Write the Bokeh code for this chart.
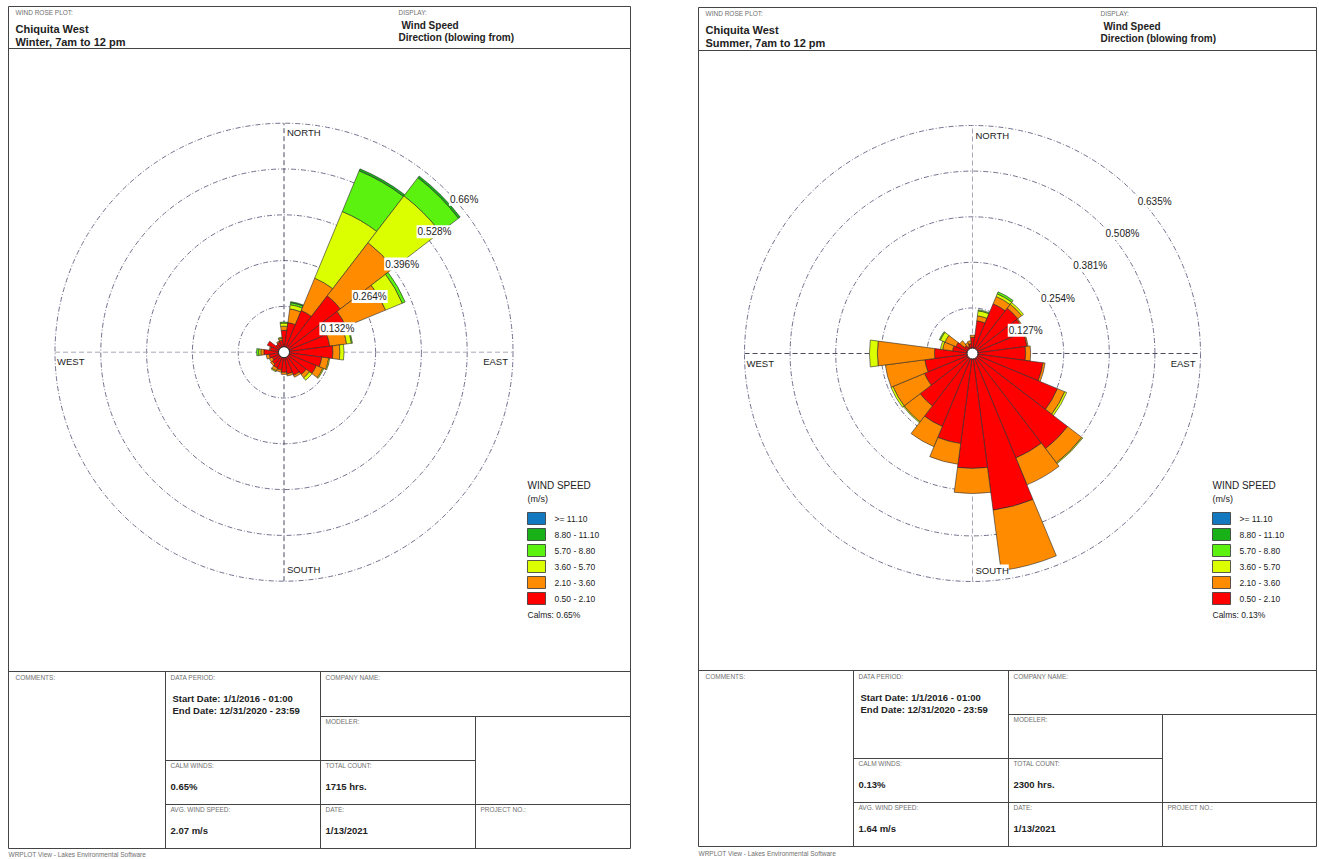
import numpy as np
from bokeh.plotting import figure
from bokeh.models import Range1d
from bokeh.core.properties import value
from bokeh.embed import file_html
from bokeh.resources import INLINE

W, H = 1319, 859
FONT = value("Liberation Sans")

# 24 direction sectors (degrees, blowing from), each 15 degrees wide
directions = list(range(0, 360, 15))
sector_width = 15

# speed classes (m/s), listed from the highest class down
speed_classes = [">= 11.10", "8.80 - 11.10", "5.70 - 8.80", "3.60 - 5.70", "2.10 - 3.60", "0.50 - 2.10"]
class_colors = ["#1279c0", "#18b218", "#5af20e", "#dcff00", "#ff8c00", "#ff0000"]

# Winter, 7am to 12 pm: frequency (%) per speed class and direction
winter_050_210 = [0.063, 0.086, 0.130, 0.205, 0.193, 0.133, 0.141, 0.110, 0.101, 0.081, 0.072, 0.063,
                  0.058, 0.052, 0.049, 0.043, 0.037, 0.043, 0.058, 0.040, 0.052, 0.029, 0.032, 0.035]
winter_210_360 = [0.012, 0.040, 0.101, 0.193, 0.124, 0.049, 0.020, 0.020, 0.020, 0.012, 0.006, 0.006,
                  0.006, 0.006, 0.009, 0.006, 0.009, 0.009, 0.009, 0.003, 0.000, 0.000, 0.003, 0.006]
winter_360_570 = [0.009, 0.012, 0.208, 0.170, 0.052, 0.014, 0.012, 0.003, 0.003, 0.009, 0.000, 0.000,
                  0.000, 0.000, 0.003, 0.000, 0.000, 0.000, 0.006, 0.000, 0.000, 0.000, 0.000, 0.003]
winter_570_880 = [0.003, 0.006, 0.127, 0.066, 0.009, 0.003, 0.000, 0.000, 0.000, 0.000, 0.000, 0.000,
                  0.000, 0.000, 0.000, 0.000, 0.000, 0.000, 0.006, 0.000, 0.000, 0.000, 0.000, 0.000]
winter_880_1110 = [0.000, 0.003, 0.006, 0.006, 0.000, 0.000, 0.000, 0.000, 0.000, 0.000, 0.000, 0.000,
                   0.000, 0.000, 0.000, 0.000, 0.000, 0.000, 0.000, 0.000, 0.000, 0.000, 0.000, 0.000]
winter_1110_up = [0.0] * 24

# Summer, 7am to 12 pm: frequency (%) per speed class and direction
summer_050_210 = [0.045, 0.092, 0.150, 0.159, 0.156, 0.153, 0.148, 0.198, 0.256, 0.334, 0.315, 0.440,
                  0.320, 0.253, 0.220, 0.184, 0.145, 0.134, 0.106, 0.056, 0.050, 0.028, 0.022, 0.028]
summer_210_360 = [0.006, 0.014, 0.022, 0.014, 0.003, 0.003, 0.014, 0.006, 0.022, 0.050, 0.081, 0.170,
                  0.070, 0.058, 0.061, 0.056, 0.095, 0.111, 0.159, 0.028, 0.033, 0.017, 0.011, 0.008]
summer_360_570 = [0.000, 0.014, 0.008, 0.006, 0.000, 0.000, 0.000, 0.000, 0.006, 0.003, 0.000, 0.000,
                  0.000, 0.000, 0.000, 0.003, 0.006, 0.000, 0.022, 0.006, 0.014, 0.000, 0.000, 0.000]
summer_570_880 = [0.000, 0.003, 0.006, 0.000, 0.000, 0.000, 0.000, 0.000, 0.000, 0.000, 0.000, 0.000,
                  0.000, 0.000, 0.000, 0.000, 0.000, 0.000, 0.000, 0.000, 0.003, 0.000, 0.000, 0.000]
summer_880_1110 = [0.0] * 24
summer_1110_up = [0.0] * 24

# ring values and their labels
winter_ring_step = 0.132
winter_ring_labels = ["0.132%", "0.264%", "0.396%", "0.528%", "0.66%"]
summer_ring_step = 0.127
summer_ring_labels = ["0.127%", "0.254%", "0.381%", "0.508%", "0.635%"]

compass_labels = ["NORTH", "EAST", "SOUTH", "WEST"]

winter_info = dict(site="Chiquita West", period="Winter, 7am to 12 pm", calms="0.65%",
                   count="1715 hrs.", avg="2.07 m/s", date="1/13/2021",
                   start="Start Date: 1/1/2016 - 01:00", end="End Date: 12/31/2020 - 23:59")
summer_info = dict(site="Chiquita West", period="Summer, 7am to 12 pm", calms="0.13%",
                   count="2300 hrs.", avg="1.64 m/s", date="1/13/2021",
                   start="Start Date: 1/1/2016 - 01:00", end="End Date: 12/31/2020 - 23:59")

# same order as speed_classes / class_colors (highest class first)
winter_classes = [winter_1110_up, winter_880_1110, winter_570_880, winter_360_570, winter_210_360, winter_050_210]
summer_classes = [summer_1110_up, summer_880_1110, summer_570_880, summer_360_570, summer_210_360, summer_050_210]

# sheet layout (page pixels, y downwards)
winter_sheet = dict(L=8, R=630, T=6, B=848, hdr=48, tbl=671, c1=165, c2=320, c3=475,
                    r1=716, r2=760, r3=804, disp=398, leg=527, cx=283.5, cy=351.7, ring_px=45.8, foot=854)
summer_sheet = dict(L=698, R=1316, T=7, B=846, hdr=50, tbl=670, c1=853, c2=1008, c3=1162,
                    r1=714, r2=758, r3=802, disp=1100, leg=1212, cx=972.0, cy=353.0, ring_px=45.6, foot=853)

p = figure(width=W, height=H, output_backend="svg", toolbar_location=None,
           x_range=Range1d(0, W), y_range=Range1d(H, 0),
           x_axis_type=None, y_axis_type=None, min_border=0,
           outline_line_color=None, background_fill_color="white", border_fill_color="white")
p.grid.visible = False

extra_x, extra_y = {}, {}
for name, sh, step in (("w", winter_sheet, winter_ring_step), ("s", summer_sheet, summer_ring_step)):
    k = sh["ring_px"] / step  # pixels per percent
    extra_x[name + "x"] = Range1d(-sh["cx"] / k, (W - sh["cx"]) / k)
    extra_y[name + "y"] = Range1d(-(H - sh["cy"]) / k, sh["cy"] / k)
p.extra_x_ranges = extra_x
p.extra_y_ranges = extra_y


def txt(x, y, s, size="7px", bold=False, color="#222222", align="left", baseline="middle"):
    p.text(x=[x], y=[y], text=[s], text_font=FONT, text_font_size=size,
           text_font_style="bold" if bold else "normal", text_color=color,
           text_align=align, text_baseline=baseline)


def draw_sheet(sh, info):
    L, R, T, B = sh["L"], sh["R"], sh["T"], sh["B"]
    c1, c2, c3 = sh["c1"], sh["c2"], sh["c3"]
    tb, r1, r2, r3 = sh["tbl"], sh["r1"], sh["r2"], sh["r3"]
    x0 = [L, L, L, R, L, L, c1, c2, c3, c2, c1, c1]
    y0 = [T, B, T, T, sh["hdr"], tb, tb, tb, r1, r1, r2, r3]
    x1 = [R, R, L, R, R, R, c1, c2, c3, R, c3, R]
    y1 = [T, B, B, B, sh["hdr"], tb, B, B, B, r1, r2, r3]
    p.segment(x0=x0, y0=y0, x1=x1, y1=y1, line_color="#444444", line_width=1)

    small, grey = "6.5px", "#6f6f6f"
    txt(L + 7, T + 6, "WIND ROSE PLOT:", small, color=grey)
    txt(L + 7, T + 22, info["site"], "11px", bold=True)
    txt(L + 7, T + 35, info["period"], "11px", bold=True)
    txt(sh["disp"], T + 6, "DISPLAY:", small, color=grey)
    txt(sh["disp"] + 3, T + 19, "Wind Speed", "10px", bold=True)
    txt(sh["disp"], T + 31, "Direction (blowing from)", "10px", bold=True)

    txt(L + 7, tb + 6, "COMMENTS:", small, color=grey)
    txt(c1 + 5, tb + 6, "DATA PERIOD:", small, color=grey)
    txt(c1 + 7, tb + 27, info["start"], "9.5px", bold=True)
    txt(c1 + 7, tb + 39, info["end"], "9.5px", bold=True)
    txt(c2 + 5, tb + 6, "COMPANY NAME:", small, color=grey)
    txt(c2 + 5, r1 + 5, "MODELER:", small, color=grey)
    txt(c1 + 5, r2 + 5, "CALM WINDS:", small, color=grey)
    txt(c1 + 5, r2 + 26, info["calms"], "9.5px", bold=True)
    txt(c2 + 5, r2 + 5, "TOTAL COUNT:", small, color=grey)
    txt(c2 + 5, r2 + 26, info["count"], "9.5px", bold=True)
    txt(c1 + 5, r3 + 5, "AVG. WIND SPEED:", small, color=grey)
    txt(c1 + 5, r3 + 26, info["avg"], "9.5px", bold=True)
    txt(c2 + 5, r3 + 5, "DATE:", small, color=grey)
    txt(c2 + 5, r3 + 26, info["date"], "9.5px", bold=True)
    txt(c3 + 5, r3 + 5, "PROJECT NO.:", small, color=grey)
    txt(L, sh["foot"], "WRPLOT View - Lakes Environmental Software", "6.5px", color=grey)

    # speed legend
    lx = sh["leg"]
    txt(lx, 485, "WIND SPEED", "10px")
    txt(lx, 498, "(m/s)", "9px")
    tops = [512 + 16 * i for i in range(len(speed_classes))]
    p.quad(left=[lx] * 6, right=[lx + 18] * 6, top=tops, bottom=[t + 12 for t in tops],
           fill_color=class_colors, line_color="#333333", line_width=0.8)
    p.text(x=[lx + 27] * 6, y=[t + 6 for t in tops], text=speed_classes, text_font=FONT,
           text_font_size="8.5px", text_color="#222222", text_baseline="middle")
    txt(lx, 614, "Calms: " + info["calms"], "8.5px")


def draw_rose(name, classes, step, ring_labels, hline, vline):
    xr, yr = name + "x", name + "y"
    rings = [step * i for i in range(1, 6)]
    rmax = rings[-1]
    p.circle(x=[0] * 5, y=[0] * 5, radius=rings, fill_color=None, line_color="#72728e",
             line_width=1, line_dash="5 2 1 2", x_range_name=xr, y_range_name=yr)
    p.segment(x0=[-rmax, 0], y0=[0, -rmax], x1=[rmax, 0], y1=[0, rmax],
              line_color=[hline, vline], line_width=1, line_dash="5 3",
              x_range_name=xr, y_range_name=yr)

    # stacked petals, lowest speed class innermost
    stack_order = list(range(len(classes) - 1, -1, -1))
    inner, outer, start, end, color = [], [], [], [], []
    for j, d in enumerate(directions):
        base = 0.0
        for ci in stack_order:
            v = classes[ci][j]
            if v <= 0:
                continue
            inner.append(base)
            outer.append(base + v)
            start.append(np.radians(90 - d - sector_width / 2))
            end.append(np.radians(90 - d + sector_width / 2))
            color.append(class_colors[ci])
            base += v
    p.annular_wedge(x=0, y=0, inner_radius=inner, outer_radius=outer,
                    start_angle=start, end_angle=end, fill_color=color,
                    line_color="#2a2a2a", line_width=0.6, x_range_name=xr, y_range_name=yr)
    p.scatter(x=[0], y=[0], size=11, marker="circle", fill_color="white",
              line_color="#222222", line_width=1, x_range_name=xr, y_range_name=yr)

    # ring value labels, hung just below the north-east diagonal of each ring
    a = np.radians(45)
    p.text(x=[r * np.sin(a) for r in rings], y=[r * np.cos(a) for r in rings], text=ring_labels,
           x_offset=3, y_offset=9,
           text_font=FONT, text_font_size="10px", text_color="#222222", text_baseline="middle",
           background_fill_color="white", padding=1, x_range_name=xr, y_range_name=yr)

    # compass points
    p.text(x=[0, rmax, 0, -rmax], y=[rmax, 0, -rmax, 0], text=compass_labels,
           anchor=["top_left", "top_right", "bottom_left", "top_left"],
           x_offset=[3, -5, 3, 2], y_offset=[4, 4, -6, 4],
           text_font=FONT, text_font_size="9.5px", text_color="#222222",
           background_fill_color="white", x_range_name=xr, y_range_name=yr)


draw_rose("w", winter_classes, winter_ring_step, winter_ring_labels, "#a8a8b8", "#4a4a5e")
draw_rose("s", summer_classes, summer_ring_step, summer_ring_labels, "#4a4a5e", "#a8a8b8")
draw_sheet(winter_sheet, winter_info)
draw_sheet(summer_sheet, summer_info)

open("out.html", "w").write(file_html(p, INLINE))
